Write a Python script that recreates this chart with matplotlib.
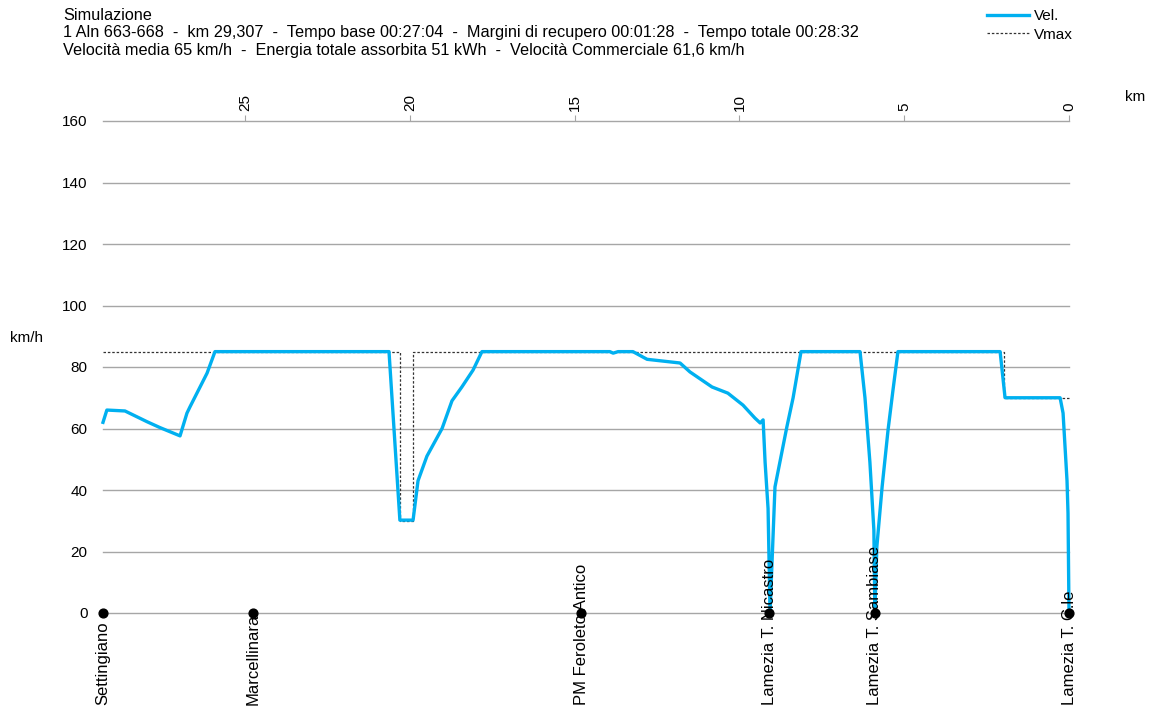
import matplotlib
matplotlib.use('Agg')
import matplotlib.pyplot as plt
from matplotlib.lines import Line2D
import matplotlib.transforms as mtransforms

plt.rcParams['font.family'] = ['Liberation Sans', 'DejaVu Sans']

# velocity profile (km from destination, km/h)
vel_km = [29.307, 29.19, 28.64, 27.97, 27.58, 26.97, 26.76, 26.67, 26.15, 25.91,
          20.63, 20.30, 19.90, 19.75, 19.48, 19.02, 18.72, 18.42, 18.08, 17.81,
          13.93, 13.83, 13.68, 13.23, 12.80, 11.80, 11.50, 10.83, 10.35, 9.89,
          9.53, 9.37, 9.28, 9.22, 9.13, 9.07, 8.92, 8.56, 8.37, 8.13,
          6.34, 6.19, 6.04, 5.92, 5.89, 5.83, 5.67, 5.49, 5.34, 5.19,
          2.09, 1.94, 0.27, 0.18, 0.06, 0.03, 0.0]
vel_kmh = [62, 66, 65.7, 62.2, 60.3, 57.6, 65, 67, 78, 85,
           85, 30.2, 30.2, 43, 51, 60, 69, 73.5, 79, 85,
           85, 84.5, 85, 85, 82.5, 81.3, 78.4, 73.5, 71.5, 67.6,
           63.4, 61.8, 62.8, 49, 34, 0, 41, 60.5, 70, 85,
           85, 70, 49, 27, 0, 21.5, 41, 59.5, 72.5, 85,
           85, 70, 70, 65, 43, 32.5, 0]

# speed limit (step profile)
vmax_km = [29.307, 20.30, 20.30, 19.90, 19.90, 1.97, 1.97, 0.0]
vmax_kmh = [85, 85, 30, 30, 85, 85, 70, 70]

stations = ['Settingiano', 'Marcellinara', 'PM Feroleto Antico',
            'Lamezia T. Nicastro', 'Lamezia T. Sambiase', 'Lamezia T. C.le']
station_km = [29.307, 24.75, 14.80, 9.10, 5.89, 0.0]

title_lines = [
    'Simulazione',
    '1 Aln 663-668  -  km 29,307  -  Tempo base 00:27:04  -  Margini di recupero 00:01:28  -  Tempo totale 00:28:32',
    'Velocità media 65 km/h  -  Energia totale assorbita 51 kWh  -  Velocità Commerciale 61,6 km/h',
]

fig = plt.figure(figsize=(11.54, 7.11), dpi=100)
ax = fig.add_axes([103 / 1154, 98 / 711, 966 / 1154, 492 / 711])

ax.set_xlim(29.307, 0)
ax.set_ylim(0, 160)
ax.set_yticks(range(0, 161, 20))
ax.set_xticks([25, 20, 15, 10, 5, 0])
ax.grid(axis='y', color='#a6a6a6', linewidth=1)
for gl in ax.get_ygridlines():
    gl.set_clip_on(False)
ax.set_axisbelow(True)
for s in ax.spines.values():
    s.set_visible(False)
ax.xaxis.tick_top()
ax.tick_params(axis='x', which='both', length=4, color='#a6a6a6', labelsize=11,
               labelrotation=90, pad=3)
ax.tick_params(axis='y', length=0, labelsize=11, pad=11)

ax.plot(vmax_km, vmax_kmh, color='#333333', linestyle=(0, (2, 1.5)), linewidth=0.9,
        zorder=3, clip_on=False)
ax.plot(vel_km, vel_kmh, color='#00b0f0', linewidth=2.4, zorder=4, clip_on=False,
        solid_joinstyle='round')
ax.scatter(station_km, [0] * len(station_km), s=40, color='black', zorder=6, clip_on=False)

trans = mtransforms.blended_transform_factory(ax.transData, ax.transAxes)
for name, km in zip(stations, station_km):
    ax.text(km, -0.187, name, rotation=90, ha='center', va='bottom', fontsize=12,
            transform=trans, zorder=7)

fig.text(10 / 1154, 1 - 338 / 711, 'km/h', fontsize=11, va='center', ha='left')
fig.text(1125 / 1154, 1 - 97 / 711, 'km', fontsize=11, va='center', ha='left')

for i, line in enumerate(title_lines):
    fig.text(63 / 1154, 1 - (15 + 17.5 * i) / 711, line, fontsize=11.7, va='center', ha='left')

handles = [Line2D([], [], color='#00b0f0', linewidth=2.4),
           Line2D([], [], color='#333333', linestyle=(0, (2, 1.5)), linewidth=0.9)]
fig.legend(handles, ['Vel.', 'Vmax'], loc='upper left', bbox_to_anchor=(978 / 1154, 1.0),
           frameon=False, fontsize=11, handlelength=2.75, handletextpad=0.3,
           labelspacing=0.3, borderaxespad=0.2)

fig.savefig('out.png', dpi=100)
